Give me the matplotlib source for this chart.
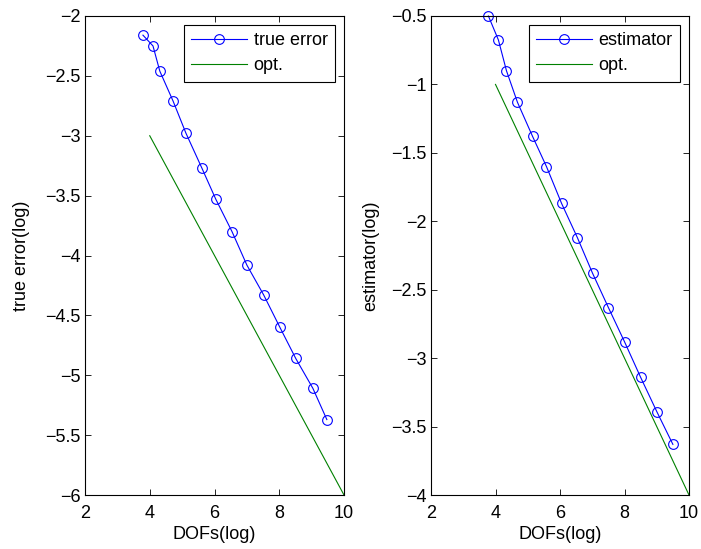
import matplotlib
matplotlib.use("Agg")
import matplotlib.pyplot as plt
import numpy as np

plt.rcParams['font.family'] = ['Liberation Sans', 'DejaVu Sans']
plt.rcParams['font.size'] = 13

dofs_left = [3.79, 4.10, 4.31, 4.72, 5.12, 5.61, 6.04, 6.54, 7.00, 7.52, 8.02, 8.51, 9.04, 9.47]
err_left = [-2.16, -2.25, -2.46, -2.71, -2.98, -3.27, -3.53, -3.80, -4.08, -4.33, -4.60, -4.86, -5.11, -5.37]
opt_left_x = [4, 10]
opt_left_y = [-3, -6]

dofs_right = [3.78, 4.09, 4.34, 4.68, 5.15, 5.58, 6.05, 6.54, 7.01, 7.50, 8.00, 8.50, 9.00, 9.50]
est_right = [-0.50, -0.675, -0.90, -1.13, -1.38, -1.60, -1.87, -2.12, -2.38, -2.63, -2.88, -3.14, -3.39, -3.63]
opt_right_x = [4, 10]
opt_right_y = [-1, -4]

fig = plt.figure(figsize=(7.01, 5.49), dpi=100)
ax1 = fig.add_axes([85/701, 54/549, 259/701, 479/549])
ax2 = fig.add_axes([431/701, 54/549, 258/701, 479/549])

blue = '#0000ff'
green = '#008000'

def style(ax):
    ax.tick_params(direction='in', top=True, right=True, length=4, width=0.6, labelsize=13)
    ax.tick_params(axis='x', pad=7)
    ax.tick_params(axis='y', pad=3)
    for s in ax.spines.values():
        s.set_linewidth(0.8)

def add_legend(ax):
    leg = ax.legend(loc='upper right', fancybox=False, edgecolor='black', framealpha=1,
                    borderaxespad=0.5, handlelength=3.1, handletextpad=0.35, fontsize=13,
                    borderpad=0.4, labelspacing=0.45)
    leg.get_frame().set_linewidth(0.8)

ax1.plot(dofs_left, err_left, '-o', color=blue, mfc='none', mec=blue, ms=7, lw=0.8, mew=0.8, label='true error')
ax1.plot(opt_left_x, opt_left_y, '-', color=green, lw=0.8, label='opt.')
ax1.set_xlim(2, 10)
ax1.set_ylim(-6, -2)
ax1.set_xticks([2, 4, 6, 8, 10])
ax1.set_yticks([-6, -5.5, -5, -4.5, -4, -3.5, -3, -2.5, -2])
ax1.set_yticklabels(['\u22126', '\u22125.5', '\u22125', '\u22124.5', '\u22124', '\u22123.5', '\u22123', '\u22122.5', '\u22122'])
ax1.set_xlabel('DOFs(log)', labelpad=3)
ax1.set_ylabel('true error(log)', labelpad=11)
style(ax1)
add_legend(ax1)

ax2.plot(dofs_right, est_right, '-o', color=blue, mfc='none', mec=blue, ms=7, lw=0.8, mew=0.8, label='estimator', clip_on=False)
ax2.plot(opt_right_x, opt_right_y, '-', color=green, lw=0.8, label='opt.')
ax2.set_xlim(2, 10)
ax2.set_ylim(-4, -0.5)
ax2.set_xticks([2, 4, 6, 8, 10])
ax2.set_yticks([-4, -3.5, -3, -2.5, -2, -1.5, -1, -0.5])
ax2.set_yticklabels(['\u22124', '\u22123.5', '\u22123', '\u22122.5', '\u22122', '\u22121.5', '\u22121', '\u22120.5'])
ax2.set_xlabel('DOFs(log)', labelpad=3)
ax2.set_ylabel('estimator(log)', labelpad=9)
style(ax2)
add_legend(ax2)

fig.savefig('out.png', dpi=100)
